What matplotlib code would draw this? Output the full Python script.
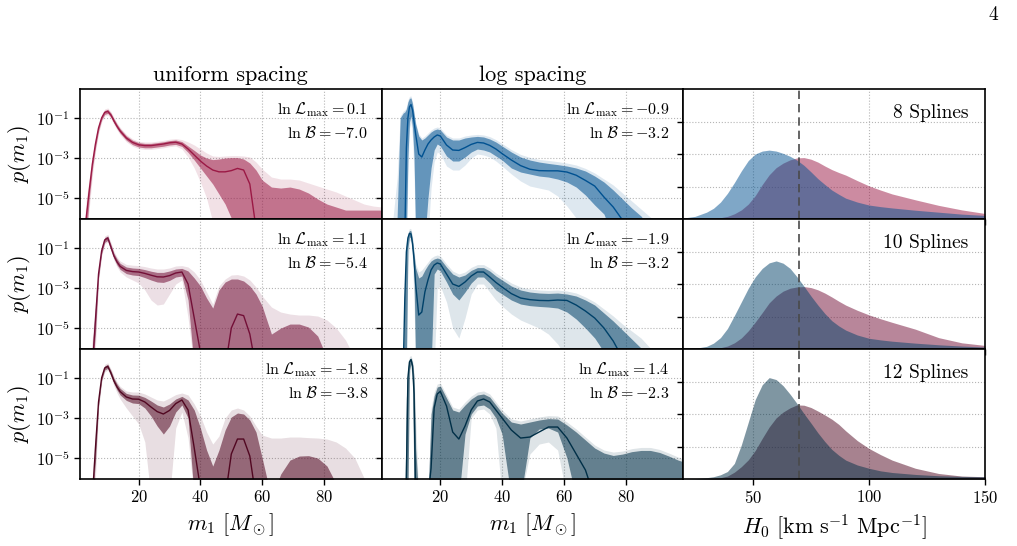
import numpy as np
import matplotlib
matplotlib.use("Agg")
from matplotlib import pyplot as plt
from matplotlib.ticker import FixedLocator, NullLocator, NullFormatter

plt.rcParams['font.family'] = 'serif'
plt.rcParams['font.serif'] = ['cmr10', 'DejaVu Serif']
plt.rcParams['mathtext.fontset'] = 'cm'
plt.rcParams['axes.formatter.use_mathtext'] = True
plt.rcParams['axes.unicode_minus'] = False

# ---- m1 grids (log10 p(m1), -7 = below the axis) ----
m_uni = [2, 3, 4, 5, 6, 7, 8, 9, 10, 11, 12, 13, 14, 16, 18, 20, 22, 24, 26, 28, 30, 32, 34, 36, 38,
         40, 42, 44, 46, 48, 50, 52, 54, 56, 58, 60, 63, 66, 69, 72, 75, 78, 81, 84, 87, 90, 93, 96, 99]
m_log = [2, 4, 6, 7, 8, 8.5, 9, 9.5, 10, 10.5, 11, 11.5, 12, 13, 14, 15, 16, 17, 18, 19, 20, 22, 24, 26,
         28, 30, 32, 34, 36, 38, 40, 43, 46, 49, 52, 55, 58, 61, 64, 67, 70, 73, 76, 79, 82, 85, 88, 91, 94, 97, 100]

# uniform spacing, 8 splines
uni8_med = [-7, -6.0, -4.6, -3.3, -2.3, -1.5, -1.0, -0.72, -0.67, -0.85, -1.15, -1.42, -1.65, -2.0, -2.22, -2.34,
            -2.38, -2.38, -2.34, -2.3, -2.24, -2.21, -2.3, -2.55, -2.85, -3.15, -3.4, -3.6, -3.69, -3.69, -3.63,
            -3.52, -3.6, -4.3, -6.5, -7, -7, -7, -7, -7, -7, -7, -7, -7, -7, -7, -7, -7, -7]
uni8_in_hi = [-7, -5.6, -4.3, -3.1, -2.15, -1.38, -0.9, -0.62, -0.57, -0.75, -1.04, -1.31, -1.54, -1.89, -2.11,
              -2.23, -2.27, -2.27, -2.23, -2.19, -2.13, -2.1, -2.18, -2.4, -2.62, -2.85, -3.0, -3.08, -3.05, -3.0,
              -2.98, -2.98, -3.05, -3.25, -3.6, -4.1, -4.45, -4.5, -4.45, -4.55, -4.75, -5.05, -5.3, -5.45, -5.6,
              -5.6, -5.6, -5.6, -5.6]
uni8_in_lo = [-7, -7, -5.0, -3.55, -2.5, -1.65, -1.1, -0.82, -0.77, -0.95, -1.26, -1.53, -1.76, -2.11, -2.33, -2.45,
              -2.49, -2.49, -2.45, -2.41, -2.35, -2.32, -2.42, -2.72, -3.1, -3.5, -3.9, -4.3, -4.8, -5.3, -6.0, -7,
              -7, -7, -7, -7, -7, -7, -7, -7, -7, -7, -7, -7, -7, -7, -7, -7, -7]
uni8_out_hi = [-7, -5.1, -4.0, -2.9, -2.0, -1.3, -0.82, -0.55, -0.5, -0.68, -0.97, -1.24, -1.47, -1.82, -2.04,
               -2.16, -2.2, -2.2, -2.16, -2.12, -2.06, -2.03, -2.08, -2.2, -2.35, -2.55, -2.75, -2.9, -2.92, -2.9,
               -2.88, -2.88, -2.9, -2.95, -3.2, -3.55, -3.95, -4.05, -4.05, -4.1, -4.25, -4.4, -4.55, -4.7, -4.9,
               -5.1, -5.3, -5.4, -5.45]
uni8_out_lo = [-7, -7, -5.5, -3.9, -2.7, -1.8, -1.2, -0.9, -0.85, -1.03, -1.33, -1.6, -1.84, -2.19, -2.41, -2.53,
               -2.57, -2.57, -2.53, -2.49, -2.43, -2.4, -2.55, -2.95, -3.5, -4.2, -5.0, -6.2, -7, -7, -7, -7, -7,
               -7, -7, -7, -7, -7, -7, -7, -7, -7, -7, -7, -7, -7, -7, -7, -7]

# uniform spacing, 10 splines
uni10_med = [-7, -7, -7, -7, -4.6, -2.3, -1.15, -0.6, -0.5, -0.95, -1.4, -1.7, -1.92, -2.12, -2.18, -2.2, -2.27,
             -2.36, -2.44, -2.45, -2.38, -2.25, -2.2, -2.8, -4.5, -6.2, -7, -7, -7, -7, -5.0, -4.3, -4.38, -5.3,
             -7, -7, -7, -7, -7, -7, -7, -7, -7, -7, -7, -7, -7, -7, -7]
uni10_in_hi = [-7, -7, -7, -6.0, -4.0, -2.1, -1.0, -0.48, -0.4, -0.82, -1.27, -1.55, -1.77, -1.95, -2.0, -2.02,
               -2.08, -2.16, -2.22, -2.22, -2.15, -2.05, -2.02, -2.15, -2.5, -2.9, -3.5, -4.0, -3.1, -2.7, -2.55,
               -2.55, -2.65, -2.9, -3.3, -3.9, -5.3, -5.0, -4.8, -4.8, -4.95, -5.4, -6.5, -7, -7, -7, -7, -7, -7]
uni10_in_lo = [-7, -7, -7, -7, -5.3, -2.5, -1.3, -0.72, -0.62, -1.08, -1.53, -1.85, -2.07, -2.28, -2.35, -2.38,
               -2.48, -2.6, -2.7, -2.72, -2.62, -2.45, -2.4, -3.6, -7, -7, -7, -7, -7, -7, -7, -7, -7, -7, -7, -7,
               -7, -7, -7, -7, -7, -7, -7, -7, -7, -7, -7, -7, -7]
uni10_out_hi = [-7, -7, -7, -5.5, -3.7, -1.95, -0.9, -0.4, -0.32, -0.72, -1.17, -1.45, -1.65, -1.82, -1.86, -1.88,
                -1.93, -2.0, -2.05, -2.05, -2.0, -1.9, -1.88, -1.95, -2.2, -2.6, -3.2, -3.8, -2.9, -2.55, -2.35,
                -2.33, -2.4, -2.6, -2.95, -3.4, -3.95, -4.2, -4.3, -4.35, -4.35, -4.4, -4.6, -5.0, -5.6, -6.5, -7,
                -7, -7]
uni10_out_lo = [-7, -7, -7, -7, -6.0, -2.7, -1.4, -0.8, -0.7, -1.15, -1.62, -1.95, -2.2, -2.45, -2.6, -2.75, -3.1,
                -3.6, -3.85, -3.8, -3.3, -2.8, -2.6, -4.5, -7, -7, -7, -7, -7, -7, -7, -7, -7, -7, -7, -7, -7, -7,
                -7, -7, -7, -7, -7, -7, -7, -7, -7, -7, -7]

# uniform spacing, 12 splines
uni12_med = [-7, -7, -7, -7, -4.5, -2.2, -1.0, -0.5, -0.42, -0.75, -1.15, -1.45, -1.68, -1.95, -2.05, -2.06, -2.2,
             -2.45, -2.68, -2.8, -2.62, -2.28, -2.1, -2.6, -4.5, -6.5, -7, -7, -7, -7, -4.8, -4.05, -4.05, -4.9,
             -7, -7, -7, -7, -7, -7, -7, -7, -7, -7, -7, -7, -7, -7, -7]
uni12_in_hi = [-7, -7, -7, -7, -4.0, -2.05, -0.9, -0.4, -0.32, -0.63, -1.02, -1.3, -1.52, -1.77, -1.85, -1.86,
               -1.97, -2.15, -2.35, -2.45, -2.3, -2.05, -1.92, -2.1, -2.6, -3.5, -4.6, -5.4, -4.6, -3.6, -2.95,
               -2.75, -2.8, -3.1, -3.7, -5.0, -7, -5.8, -5.1, -4.9, -4.88, -5.0, -5.4, -6.3, -7, -7, -7, -7, -7]
uni12_in_lo = [-7, -7, -7, -7, -5.2, -2.4, -1.12, -0.6, -0.52, -0.87, -1.28, -1.6, -1.85, -2.12, -2.25, -2.28,
               -2.5, -2.9, -3.4, -3.8, -3.4, -2.7, -2.35, -3.0, -7, -7, -7, -7, -7, -7, -7, -7, -7, -7, -7, -7, -7,
               -7, -7, -7, -7, -7, -7, -7, -7, -7, -7, -7, -7]
uni12_out_hi = [-7, -7, -7, -6.0, -3.7, -1.9, -0.8, -0.32, -0.24, -0.55, -0.92, -1.2, -1.42, -1.65, -1.7, -1.7,
                -1.8, -1.95, -2.1, -2.15, -2.0, -1.83, -1.75, -1.85, -2.3, -2.9, -3.7, -4.3, -3.9, -3.0, -2.6,
                -2.5, -2.6, -2.9, -3.4, -3.85, -4.0, -4.0, -3.95, -3.95, -3.98, -4.0, -4.05, -4.2, -4.5, -5.0, -6.0,
                -7, -7]
uni12_out_lo = [-7, -7, -7, -7, -6.0, -2.6, -1.25, -0.7, -0.6, -0.95, -1.4, -1.75, -2.05, -2.5, -2.9, -3.3, -4.2,
                -7, -7, -7, -7, -3.5, -2.7, -4.0, -7, -7, -7, -7, -7, -7, -7, -7, -7, -7, -7, -7, -7, -7, -7, -7,
                -7, -7, -7, -7, -7, -7, -7, -7, -7]

# log spacing, 8 splines
log8_med = [-7, -7, -7, -7, -7, -7, -2.5, -1.0, -0.45, -0.33, -0.6, -1.2, -1.8, -2.8, -2.95, -2.6, -2.3, -2.1,
            -1.95, -1.85, -1.9, -2.35, -2.6, -2.62, -2.48, -2.32, -2.22, -2.25, -2.37, -2.55, -2.78, -3.1, -3.38,
            -3.56, -3.63, -3.64, -3.64, -3.7, -3.86, -4.12, -4.4, -4.95, -5.45, -6.1, -7, -7, -7, -7, -7, -7, -7]
log8_in_hi = [-7, -7, -6.0, -1.0, -0.75, -0.7, -0.55, -0.2, -0.02, 0.0, -0.3, -0.8, -1.3, -1.9, -2.1, -2.0, -1.85,
              -1.7, -1.6, -1.55, -1.6, -1.95, -2.1, -2.1, -2.0, -1.95, -1.92, -1.95, -2.05, -2.2, -2.4, -2.7,
              -2.95, -3.1, -3.2, -3.27, -3.33, -3.4, -3.5, -3.65, -3.9, -4.2, -4.6, -5.05, -5.5, -5.9, -6.5, -7,
              -7, -7, -7]
log8_in_lo = [-7, -7, -7, -7, -7, -7, -7, -3.0, -1.2, -0.9, -1.5, -3.0, -7, -7, -7, -7, -5.0, -3.5, -2.6, -2.3,
              -2.4, -2.9, -3.15, -3.15, -2.95, -2.7, -2.55, -2.6, -2.7, -2.9, -3.1, -3.5, -3.7, -3.8, -3.9, -3.95,
              -4.05, -4.2, -4.45, -4.85, -5.35, -5.8, -7, -7, -7, -7, -7, -7, -7, -7, -7]
log8_out_hi = [-7, -7, -4.0, -0.9, -0.65, -0.6, -0.45, -0.1, 0.08, 0.1, -0.2, -0.7, -1.2, -1.8, -2.0, -1.9, -1.75,
               -1.6, -1.5, -1.45, -1.5, -1.85, -2.0, -2.0, -1.9, -1.85, -1.82, -1.85, -1.93, -2.08, -2.28, -2.58,
               -2.82, -2.97, -3.07, -3.12, -3.18, -3.25, -3.35, -3.52, -3.75, -4.05, -4.35, -4.75, -5.15, -5.55,
               -5.95, -6.4, -7, -7, -7]
log8_out_lo = [-7, -7, -7, -7, -7, -7, -7, -4.0, -1.5, -1.2, -2.0, -4.0, -7, -7, -7, -7, -7, -4.5, -3.2, -2.7,
               -2.8, -3.4, -3.6, -3.6, -3.35, -3.0, -2.8, -2.85, -2.95, -3.15, -3.4, -3.8, -4.15, -4.4, -4.5, -4.6,
               -4.9, -5.4, -6.0, -7, -7, -7, -7, -7, -7, -7, -7, -7, -7, -7, -7]

# log spacing, 10 splines
log10_med = [-7, -7, -7, -7, -7, -3.5, -1.2, -0.5, -0.27, -0.3, -0.8, -1.6, -2.8, -4.35, -4.2, -3.2, -2.6, -2.1,
             -1.85, -1.75, -1.8, -2.3, -2.8, -2.92, -2.7, -2.4, -2.2, -2.2, -2.45, -2.72, -2.95, -3.28, -3.5, -3.58,
             -3.62, -3.63, -3.6, -3.62, -3.85, -4.15, -4.5, -5.0, -5.65, -6.5, -7, -7, -7, -7, -7, -7, -7]
log10_in_hi = [-7, -7, -7, -7, -7, -2.5, -0.9, -0.35, -0.12, -0.15, -0.6, -1.3, -2.0, -2.5, -2.4, -2.1, -1.85,
               -1.65, -1.55, -1.5, -1.55, -1.95, -2.3, -2.45, -2.35, -2.12, -1.98, -1.98, -2.15, -2.4, -2.6, -2.9,
               -3.1, -3.2, -3.25, -3.27, -3.25, -3.3, -3.4, -3.6, -3.85, -4.25, -4.65, -5.1, -5.55, -6.0, -6.6, -7,
               -7, -7, -7]
log10_in_lo = [-7, -7, -7, -7, -7, -7, -7, -1.0, -0.45, -0.5, -1.2, -2.5, -7, -7, -7, -7, -7, -7, -2.3, -2.05,
               -2.15, -2.7, -3.3, -3.6, -3.2, -2.75, -2.45, -2.45, -2.75, -3.1, -3.3, -3.6, -3.8, -3.88, -3.92,
               -3.95, -4.0, -4.2, -4.55, -5.0, -5.5, -6.2, -7, -7, -7, -7, -7, -7, -7, -7, -7]
log10_out_hi = [-7, -7, -7, -7, -7, -2.2, -0.75, -0.25, -0.02, -0.05, -0.45, -1.15, -1.8, -2.2, -2.1, -1.9,
                -1.7, -1.5, -1.4, -1.35, -1.4, -1.8, -2.15, -2.3, -2.2, -1.97, -1.83, -1.83, -2.0, -2.25, -2.45,
                -2.75, -2.95, -3.05, -3.1, -3.12, -3.1, -3.15, -3.25, -3.45, -3.7, -4.05, -4.4, -4.8, -5.15, -5.5,
                -6.0, -6.6, -7, -7, -7]
log10_out_lo = [-7, -7, -7, -7, -7, -7, -7, -2.0, -0.6, -0.7, -1.6, -4.0, -7, -7, -7, -7, -7, -7, -7, -3.0, -2.9,
                -3.7, -5.0, -5.5, -4.5, -3.3, -2.8, -2.8, -3.2, -3.6, -3.9, -4.3, -4.6, -4.8, -5.0, -5.3, -5.8,
                -6.5, -7, -7, -7, -7, -7, -7, -7, -7, -7, -7, -7, -7, -7]

# log spacing, 12 splines
log12_med = [-7, -7, -7, -7, -7, -7, -6.0, -1.0, -0.2, -0.08, -0.4, -1.8, -7, -7, -7, -7, -7, -5.5, -2.5, -1.8,
             -1.67, -2.4, -3.7, -4.05, -3.4, -2.6, -2.15, -2.05, -2.2, -2.6, -3.0, -3.6, -4.0, -3.95, -3.7, -3.45,
             -3.45, -4.0, -4.8, -5.6, -7, -7, -7, -7, -7, -7, -7, -7, -7, -7, -7]
log12_in_hi = [-7, -7, -7, -7, -7, -7, -2.0, -0.5, -0.05, 0.0, -0.25, -1.0, -4.5, -7, -7, -7, -7, -2.8, -1.9,
               -1.45, -1.4, -2.0, -2.6, -2.7, -2.35, -2.05, -1.85, -1.8, -1.95, -2.35, -2.75, -3.2, -3.3, -3.2,
               -3.1, -3.03, -3.05, -3.35, -3.7, -4.1, -4.5, -4.75, -4.87, -4.8, -4.68, -4.62, -4.62, -4.72, -4.9,
               -5.1, -5.25]
log12_in_lo = [-7, -7, -7, -7, -7, -7, -7, -7, -0.6, -0.3, -0.8, -7, -7, -7, -7, -7, -7, -7, -7, -7, -7, -7, -7,
               -7, -3.8, -2.8, -2.4, -2.35, -2.55, -3.0, -3.8, -7, -7, -4.0, -3.55, -3.5, -3.7, -5.0, -7, -7, -7,
               -7, -7, -7, -7, -7, -7, -7, -7, -7, -7]
log12_out_hi = [-7, -7, -7, -7, -7, -7, -1.7, -0.35, 0.08, 0.12, -0.1, -0.8, -3.0, -7, -7, -7, -7, -2.5, -1.7,
                -1.3, -1.25, -1.85, -2.45, -2.55, -2.2, -1.9, -1.7, -1.65, -1.8, -2.2, -2.6, -3.05, -3.15, -3.05,
                -2.95, -2.88, -2.9, -3.2, -3.55, -3.95, -4.35, -4.6, -4.7, -4.65, -4.53, -4.47, -4.47, -4.57,
                -4.75, -4.95, -5.1]
log12_out_lo = [-7, -7, -7, -7, -7, -7, -7, -7, -1.0, -0.5, -1.2, -7, -7, -7, -7, -7, -7, -7, -7, -7, -7, -7, -7,
                -7, -7, -3.0, -2.6, -2.55, -2.8, -3.5, -7, -7, -7, -4.8, -4.3, -4.2, -4.6, -7, -7, -7, -7, -7, -7,
                -7, -7, -7, -7, -7, -7, -7, -7]

# ---- H0 posteriors ----
h0 = [20, 25, 30, 33, 36, 39, 42, 45, 48, 51, 54, 57, 60, 63, 66, 69, 72, 75, 78, 81, 84, 87, 90, 95, 100,
      105, 110, 120, 130, 140, 150]
h0_log8 = [0.0003, 0.0008, 0.0021, 0.0033, 0.0052, 0.0079, 0.0112, 0.0148, 0.0180, 0.0200, 0.0209, 0.0212,
           0.0209, 0.0202, 0.0193, 0.0181, 0.0165, 0.0145, 0.0124, 0.0106, 0.0089, 0.0076, 0.0064, 0.0052,
           0.0043, 0.0038, 0.0034, 0.0027, 0.0021, 0.0015, 0.0011]
h0_uni8 = [0.0, 0.0, 0.0001, 0.0002, 0.0004, 0.0008, 0.0016, 0.0028, 0.0046, 0.0072, 0.0106, 0.0136, 0.0158,
           0.0172, 0.0182, 0.0188, 0.0189, 0.0184, 0.0175, 0.0163, 0.0152, 0.0143, 0.0135, 0.0118, 0.0102,
           0.0089, 0.0077, 0.0059, 0.0042, 0.0028, 0.0017]
h0_log10 = [0.0001, 0.0002, 0.0008, 0.0018, 0.0035, 0.0063, 0.0103, 0.0145, 0.0187, 0.0222, 0.0248, 0.0265,
            0.0271, 0.0264, 0.0248, 0.0222, 0.0193, 0.0163, 0.0135, 0.0109, 0.0087, 0.0071, 0.0058, 0.0043,
            0.0033, 0.0028, 0.0024, 0.0018, 0.0013, 0.0009, 0.0006]
h0_uni10 = [0.0, 0.0, 0.0001, 0.0002, 0.0004, 0.0009, 0.0019, 0.0034, 0.0056, 0.0083, 0.0112, 0.0142, 0.0163,
            0.0178, 0.0187, 0.0191, 0.0192, 0.0189, 0.0182, 0.0172, 0.0160, 0.0147, 0.0135, 0.0119, 0.0105,
            0.0093, 0.0082, 0.0061, 0.0035, 0.0019, 0.0011]
h0_log12 = [0.0, 0.0001, 0.0004, 0.0007, 0.0013, 0.0023, 0.0048, 0.0105, 0.0175, 0.0245, 0.0290, 0.0312,
            0.0306, 0.0287, 0.0261, 0.0232, 0.0201, 0.0172, 0.0142, 0.0115, 0.0091, 0.0073, 0.0058, 0.0043,
            0.0033, 0.0025, 0.0020, 0.0014, 0.0010, 0.0008, 0.0007]
h0_uni12 = [0.0, 0.0, 0.0001, 0.0002, 0.0004, 0.0009, 0.0021, 0.0038, 0.0059, 0.0088, 0.0125, 0.0160, 0.0188,
            0.0206, 0.0219, 0.0228, 0.0227, 0.0220, 0.0209, 0.0197, 0.0184, 0.0168, 0.0148, 0.0118, 0.0094,
            0.0075, 0.0058, 0.0033, 0.0017, 0.0009, 0.0007]

lnL_uni = ['0.1', '1.1', '-1.8']
lnB_uni = ['-7.0', '-5.4', '-3.8']
lnL_log = ['-0.9', '-1.9', '1.4']
lnB_log = ['-3.2', '-3.2', '-2.3']
n_splines = [8, 10, 12]
h0_true = 70

pinks = ['#9b1945', '#730f37', '#510721']
blues = ['#005191', '#004169', '#002f47']

uni_rows = [(uni8_med, uni8_in_lo, uni8_in_hi, uni8_out_lo, uni8_out_hi),
            (uni10_med, uni10_in_lo, uni10_in_hi, uni10_out_lo, uni10_out_hi),
            (uni12_med, uni12_in_lo, uni12_in_hi, uni12_out_lo, uni12_out_hi)]
log_rows = [(log8_med, log8_in_lo, log8_in_hi, log8_out_lo, log8_out_hi),
            (log10_med, log10_in_lo, log10_in_hi, log10_out_lo, log10_out_hi),
            (log12_med, log12_in_lo, log12_in_hi, log12_out_lo, log12_out_hi)]
h0_rows = [(h0_uni8, h0_log8), (h0_uni10, h0_log10), (h0_uni12, h0_log12)]


def draw_m1(ax, m, curves, color):
    med, in_lo, in_hi, out_lo, out_hi = [10.0 ** np.asarray(c, dtype=float) for c in curves]
    ax.fill_between(m, out_lo, out_hi, color=color, alpha=0.13, lw=0)
    ax.fill_between(m, in_lo, in_hi, color=color, alpha=0.55, lw=0)
    ax.plot(m, med, color=color, lw=1.0)


fig = plt.figure(figsize=(10.17, 5.46), dpi=100)
left, right, bottom, top = 80 / 1017, 985 / 1017, 67 / 546, 457 / 546
w = (right - left) / 3
h = (top - bottom) / 3

axes = [[None] * 3 for _ in range(3)]
for r in range(3):
    for c in range(3):
        ax = fig.add_axes([left + c * w, top - (r + 1) * h, w, h])
        axes[r][c] = ax
        for s in ax.spines.values():
            s.set_linewidth(1.2)
        ax.tick_params(direction='out', length=4, width=1, labelsize=12)
        ax.grid(True, ls=':', color='#b5b5b5', lw=0.8)
        ax.set_axisbelow(True)

for r in range(3):
    for c, (rows, col, lnL, lnB) in enumerate([(uni_rows, pinks, lnL_uni, lnB_uni),
                                                (log_rows, blues, lnL_log, lnB_log)]):
        ax = axes[r][c]
        m = m_uni if c == 0 else m_log
        draw_m1(ax, m, rows[r], col[r])
        ax.set_yscale('log')
        ax.set_ylim(9e-7, 2.8)
        ax.set_xlim(1, 98.7)
        ax.yaxis.set_major_locator(FixedLocator([1e-1, 1e-3, 1e-5]))
        ax.yaxis.set_minor_locator(NullLocator())
        ax.set_xticks([20, 40, 60, 80])
        if c == 1:
            ax.yaxis.set_major_formatter(NullFormatter())
        else:
            ax.set_ylabel(r'$p(m_1)$', fontsize=16, labelpad=2)
        if r < 2:
            ax.xaxis.set_major_formatter(NullFormatter())
        else:
            ax.set_xlabel(r'$m_1\ [M_\odot]$', fontsize=16)
        ax.text(0.955, 0.91, r'$\ln\,\mathcal{L}_{\max} = %s$' % lnL[r] + '\n' + r'$\ln\,\mathcal{B} = %s$' % lnB[r],
                transform=ax.transAxes, ha='right', va='top', fontsize=11.5, linespacing=1.4)

    ax = axes[r][2]
    uni_h, log_h = h0_rows[r]
    ax.fill_between(h0, 0, uni_h, color=pinks[r], alpha=0.5, lw=0)
    ax.fill_between(h0, 0, log_h, color=blues[r], alpha=0.5, lw=0)
    ax.axvline(h0_true, color='#4a4a4a', ls=(0, (5, 3)), lw=1.2)
    ax.set_xlim(20, 150)
    ax.set_ylim(0, 0.04)
    ax.set_yticks([0.01, 0.02, 0.03])
    ax.yaxis.set_major_formatter(NullFormatter())
    ax.set_xticks([50, 100, 150])
    if r < 2:
        ax.xaxis.set_major_formatter(NullFormatter())
    else:
        ax.set_xlabel(r'$H_0\ [\mathrm{km\ s^{-1}\ Mpc^{-1}}]$', fontsize=16)
    ax.text(0.944, 0.815, '%d Splines' % n_splines[r], transform=ax.transAxes,
            ha='right', va='center', fontsize=14)

axes[0][0].set_title('uniform spacing', fontsize=16, pad=6)
axes[0][1].set_title('log spacing', fontsize=16, pad=6)
fig.text(993 / 1017, 1 - 15 / 546, '4', fontsize=14, ha='center', va='center')

fig.savefig('out.png', dpi=100)
